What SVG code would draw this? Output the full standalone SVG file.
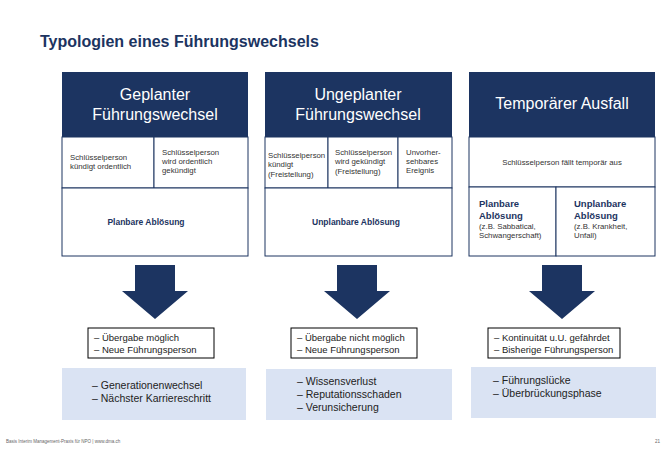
<svg xmlns="http://www.w3.org/2000/svg" width="670" height="465" viewBox="0 0 670 465">
<style>
text{font-family:"Liberation Sans",Arial,sans-serif}
.hd{fill:#1c3461}
.ht{fill:#fff;font-size:16px;text-anchor:middle}
.cell{fill:#fff;stroke:#1c3461;stroke-width:1}
.s{font-size:7.8px;fill:#333}
.b{font-size:8.5px;font-weight:bold;fill:#1c3461}
.b3{font-size:9.5px;font-weight:bold;fill:#1c3461}
.bx{fill:#fff;stroke:#000;stroke-width:1}
.t{font-size:9.5px;fill:#222}
.lb{fill:#dae3f3}
.l{font-size:10.5px;fill:#222}
.arr{fill:#1c3461}
</style>
<rect width="670" height="465" fill="#fff"/>
<text x="40" y="47" font-size="16" font-weight="bold" fill="#1c3461">Typologien eines Führungswechsels</text>
<g id="col1">
<rect class="hd" x="62" y="72" width="186" height="65"/>
<text class="ht" x="155" y="100">Geplanter</text>
<text class="ht" x="155" y="120">Führungswechsel</text>
<rect class="cell" x="62" y="137" width="92" height="51"/>
<rect class="cell" x="154" y="137" width="94" height="51"/>
<rect class="cell" x="62" y="188" width="186" height="68"/>
<text class="s" x="70" y="160">Schlüsselperson</text><text class="s" x="70" y="169">kündigt ordentlich</text>
<text class="s" x="162" y="155">Schlüsselperson</text><text class="s" x="162" y="164">wird ordentlich</text><text class="s" x="162" y="173">gekündigt</text>
<text class="b" x="146" y="225" text-anchor="middle">Planbare Ablösung</text>
</g>
<g id="col2">
<rect class="hd" x="265" y="72" width="187" height="65"/>
<text class="ht" x="358" y="100">Ungeplanter</text>
<text class="ht" x="358" y="120">Führungswechsel</text>
<rect class="cell" x="265" y="137" width="63" height="51"/>
<rect class="cell" x="328" y="137" width="70" height="51"/>
<rect class="cell" x="398" y="137" width="54" height="51"/>
<rect class="cell" x="265" y="188" width="187" height="68"/>
<text class="s" x="268" y="158">Schlüsselperson</text><text class="s" x="268" y="167">kündigt</text><text class="s" x="268" y="177">(Freistellung)</text>
<text class="s" x="335" y="155">Schlüsselperson</text><text class="s" x="335" y="164">wird gekündigt</text><text class="s" x="335" y="174">(Freistellung)</text>
<text class="s" x="406" y="155">Unvorher-</text><text class="s" x="406" y="164">sehbares</text><text class="s" x="406" y="173">Ereignis</text>
<text class="b" x="356" y="225" text-anchor="middle">Unplanbare Ablösung</text>
</g>
<g id="col3">
<rect class="hd" x="469" y="72" width="186" height="65"/>
<text class="ht" x="562" y="109">Temporärer Ausfall</text>
<rect class="cell" x="469" y="137" width="186" height="50"/>
<rect class="cell" x="469" y="187" width="87" height="69"/>
<rect class="cell" x="556" y="187" width="99" height="69"/>
<text class="s" x="562" y="165" text-anchor="middle">Schlüsselperson fällt temporär aus</text>
<text class="b3" x="479" y="207">Planbare</text><text class="b3" x="479" y="219">Ablösung</text>
<text class="s" x="479" y="229">(z.B. Sabbatical,</text><text class="s" x="479" y="238">Schwangerschaft)</text>
<text class="b3" x="574" y="207">Unplanbare</text><text class="b3" x="574" y="219">Ablösung</text>
<text class="s" x="574" y="229">(z.B. Krankheit,</text><text class="s" x="574" y="238">Unfall)</text>
</g>
<g id="connectors">
<polygon class="arr" points="135,265 175,265 175,291 188,291 155,319 122,291 135,291"/>
<polygon class="arr" points="337,265 377,265 377,291 390,291 357,319 324,291 337,291"/>
<polygon class="arr" points="542,265 582,265 582,291 595,291 562,319 529,291 542,291"/>
</g>
<g id="res1">
<rect class="bx" x="88" y="328" width="126" height="30"/>
<text class="t" x="94" y="341">–  Übergabe möglich</text><text class="t" x="94" y="353">–  Neue Führungsperson</text>
<rect class="lb" x="62" y="368" width="184" height="52"/>
<text class="l" x="92" y="389">–  Generationenwechsel</text><text class="l" x="92" y="402">–  Nächster Karriereschritt</text>
</g>
<g id="res2">
<rect class="bx" x="291" y="328" width="126" height="30"/>
<text class="t" x="297" y="341">–  Übergabe nicht möglich</text><text class="t" x="297" y="353">–  Neue Führungsperson</text>
<rect class="lb" x="266" y="369" width="186" height="51"/>
<text class="l" x="297" y="385">–  Wissensverlust</text><text class="l" x="297" y="398">–  Reputationsschaden</text><text class="l" x="297" y="411">–  Verunsicherung</text>
</g>
<g id="res3">
<rect class="bx" x="488" y="328" width="132" height="30"/>
<text class="t" x="494" y="341">–  Kontinuität u.U. gefährdet</text><text class="t" x="494" y="353">–  Bisherige Führungsperson</text>
<rect class="lb" x="471" y="367" width="185" height="51"/>
<text class="l" x="493" y="384">–  Führungslücke</text><text class="l" x="493" y="397">–  Überbrückungsphase</text>
</g>
<text x="6" y="443" font-size="4.5" fill="#666">Basis Interim Management-Praxis für NPO | www.dma.ch</text>
<text x="660" y="443" font-size="4.5" fill="#666" text-anchor="end">21</text>
</svg>
